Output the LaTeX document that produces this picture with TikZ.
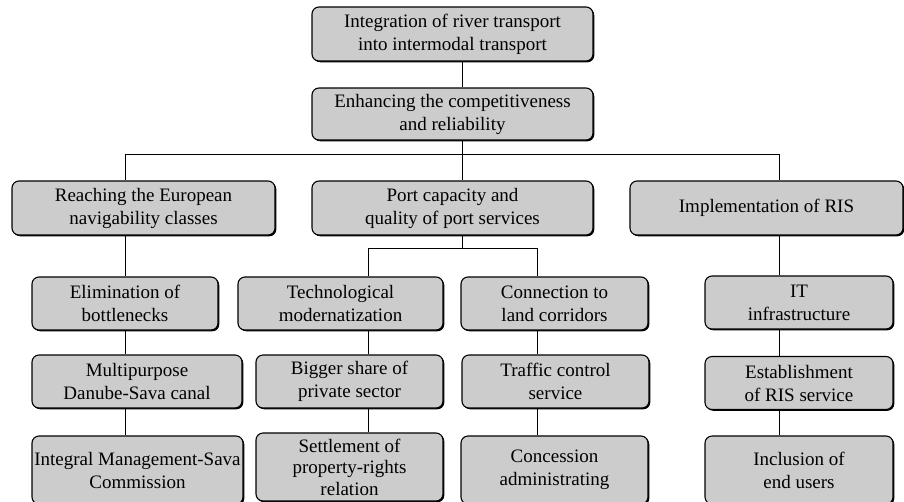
\documentclass[tikz,border=0pt]{standalone}
\usepackage{fontspec}
\setmainfont{Liberation Serif}
\usetikzlibrary{shadows}
\begin{document}
\begin{tikzpicture}[x=1pt, y=-1pt,
        goal/.style={draw, line width=1.1pt, rounded corners=7pt, fill=black!20, align=center, inner sep=0pt,
            font=\fontsize{19}{23}\selectfont,
            drop shadow={shadow xshift=1.3pt, shadow yshift=-1.3pt, fill=black, opacity=1}},
        link/.style={draw, line width=1pt, black},
    ]
	\useasboundingbox (0,0) rectangle (904,501);
	\node[goal, minimum width=281, minimum height=54] (g_) at (452.5,34) {Integration of river transport\\into intermodal transport};
	\node[goal, minimum width=281, minimum height=52] (g_0) at (452.5,114) {Enhancing the competitiveness\\and reliability};
	\node[goal, minimum width=263, minimum height=54] (g_00) at (143.5,208) {Reaching the European\\navigability classes};
	\node[goal, minimum width=281, minimum height=54] (g_01) at (452.5,208) {Port capacity and\\quality of port services};
	\node[goal, minimum width=273, minimum height=54] (g_02) at (766.5,208) {Implementation of RIS};
	\node[goal, minimum width=186, minimum height=53] (g_000) at (125,303.5) {Elimination of\\bottlenecks};
	\node[goal, minimum width=205, minimum height=53] (g_010) at (340.5,303.5) {Technological\\modernatization};
	\node[goal, minimum width=187, minimum height=53] (g_011) at (554.5,303.5) {Connection to\\land corridors};
	\node[goal, minimum width=188, minimum height=53] (g_020) at (799,302.5) {IT\\infrastructure};
	\node[goal, minimum width=210, minimum height=53] (g_0000) at (137,381.5) {Multipurpose\\Danube-Sava canal};
	\node[goal, minimum width=187, minimum height=53] (g_0100) at (349.5,381.5) {Bigger share of\\private sector};
	\node[goal, minimum width=187, minimum height=53] (g_0110) at (555.5,381.5) {Traffic control\\service};
	\node[goal, minimum width=188, minimum height=53] (g_0200) at (799,383) {Establishment\\of RIS service};
	\node[goal, minimum width=211, minimum height=68] (g_00000) at (137.5,470) {Integral Management-Sava\\Commission};
	\node[goal, minimum width=187, minimum height=68, font=\fontsize{19}{21.5}\selectfont] (g_01000) at (349.5,467) {Settlement of\\property-rights\\relation};
	\node[goal, minimum width=187, minimum height=68] (g_01100) at (554.5,470) {Concession\\administrating};
	\node[goal, minimum width=188, minimum height=68] (g_02000) at (799,470) {Inclusion of\\end users};
	% branch points
	\coordinate (b_0) at (125,154);
	\coordinate (b_1) at (462,154);
	\coordinate (b_2) at (779,154);
	\coordinate (b_10) at (368,248);
	\coordinate (b_11) at (537,248);
	\draw[link] (g_.south -| b_1) -- (g_0.north -| b_1);
	\draw[link] (g_0.south -| b_1) -- (b_1);
	\draw[link] (g_00.north -| b_0) -- (b_0) -- (b_2) -- (g_02.north -| b_2);
	\draw[link] (b_1) -- (g_01.north -| b_1);
	\draw[link] (g_01.south -| b_1) -- (b_1 |- b_10);
	\draw[link] (g_010.north -| b_10) -- (b_10) -- (b_11) -- (g_011.north -| b_11);
	\draw[link] (g_00.south -| b_0) -- (g_000.north -| b_0);
	\draw[link] (g_000.south -| b_0) -- (g_0000.north -| b_0);
	\draw[link] (g_0000.south -| b_0) -- (g_00000.north -| b_0);
	\draw[link] (g_010.south -| b_10) -- (g_0100.north -| b_10);
	\draw[link] (g_0100.south -| b_10) -- (g_01000.north -| b_10);
	\draw[link] (g_011.south -| b_11) -- (g_0110.north -| b_11);
	\draw[link] (g_0110.south -| b_11) -- (g_01100.north -| b_11);
	\draw[link] (g_02.south -| b_2) -- (g_020.north -| b_2);
	\draw[link] (g_020.south -| b_2) -- (g_0200.north -| b_2);
	\draw[link] (g_0200.south -| b_2) -- (g_02000.north -| b_2);
\end{tikzpicture}
\end{document}
